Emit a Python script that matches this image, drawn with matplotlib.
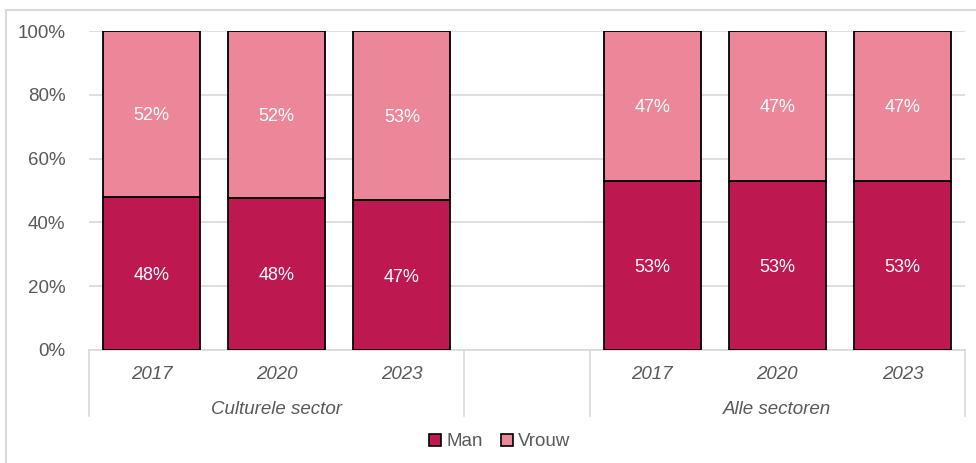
import matplotlib.pyplot as plt
from matplotlib.patches import Patch
from matplotlib.lines import Line2D
from matplotlib.ticker import PercentFormatter
import matplotlib.transforms as mtransforms

plt.rcParams['font.family'] = ['Liberation Sans', 'DejaVu Sans']

groups = ['Culturele sector', 'Alle sectoren']
years = ['2017', '2020', '2023']
man = [48.1, 47.8, 46.9, 53.0, 53.0, 53.0]
vrouw = [51.9, 52.2, 53.1, 47.0, 47.0, 47.0]
man_labels = ['48%', '48%', '47%', '53%', '53%', '53%']
vrouw_labels = ['52%', '52%', '53%', '47%', '47%', '47%']

c_man = '#BE1850'
c_vrouw = '#EB8799'
grey = '#595959'
light = '#D9D9D9'

fig = plt.figure(figsize=(9.76, 4.63), dpi=100)
ax = fig.add_axes([89 / 976, 1 - 350 / 463, 876 / 976, 319 / 463])

xs = [0, 1, 2, 4, 5, 6]
w = 0.775
ax.bar(xs, man, w, color=c_man, edgecolor='black', linewidth=1.3, zorder=3)
ax.bar(xs, vrouw, w, bottom=man, color=c_vrouw, edgecolor='black', linewidth=1.3, zorder=3)

for x, m, v, ml, vl in zip(xs, man, vrouw, man_labels, vrouw_labels):
    ax.text(x, m / 2, ml, ha='center', va='center_baseline', color='white', fontsize=13, zorder=4)
    ax.text(x, m + v / 2, vl, ha='center', va='center_baseline', color='white', fontsize=13, zorder=4)

ax.set_xlim(-0.5, 6.5)
ax.set_ylim(0, 100)
ax.set_yticks([0, 20, 40, 60, 80, 100])
ax.yaxis.set_major_formatter(PercentFormatter(decimals=0))
ax.tick_params(axis='y', length=0, pad=17, labelsize=13.5, labelcolor=grey)
ax.set_xticks([])
ax.grid(axis='y', color=light, linewidth=1.2, zorder=0)
for s in ['left', 'right', 'top']:
    ax.spines[s].set_visible(False)
ax.spines['bottom'].set_color(light)
ax.spines['bottom'].set_linewidth(1.2)

trans = mtransforms.blended_transform_factory(ax.transData, ax.transAxes)
for i, x in enumerate(xs):
    ax.text(x, -0.07, years[i % 3], transform=trans, ha='center', va='center_baseline',
            fontsize=13.5, style='italic', color=grey)
ax.text(1, -0.18, groups[0], transform=trans, ha='center', va='center_baseline',
        fontsize=13.5, style='italic', color=grey)
ax.text(5, -0.18, groups[1], transform=trans, ha='center', va='center_baseline',
        fontsize=13.5, style='italic', color=grey)
for sx in [-0.5, 2.5, 3.5, 6.5]:
    ax.add_line(Line2D([sx, sx], [0, -0.207], transform=trans, color=light,
                       linewidth=1.2, clip_on=False))

handles = [Patch(facecolor=c_man, edgecolor='black', linewidth=1.2, label='Man'),
           Patch(facecolor=c_vrouw, edgecolor='black', linewidth=1.2, label='Vrouw')]
leg = fig.legend(handles=handles, loc='center', bbox_to_anchor=(500 / 976, 1 - 442 / 463),
                 ncol=2, frameon=False, fontsize=13.5, handlelength=0.6, handleheight=0.6,
                 handletextpad=0.3, columnspacing=1.0)
for t in leg.get_texts():
    t.set_color(grey)

# light border around the chart area
fig.add_artist(Line2D([6 / 976, 6 / 976], [0, 1 - 10 / 463], transform=fig.transFigure,
                      color=light, linewidth=1.5))
fig.add_artist(Line2D([6 / 976, 1], [1 - 10 / 463, 1 - 10 / 463], transform=fig.transFigure,
                      color=light, linewidth=1.5))

fig.savefig('out.png', dpi=100)
